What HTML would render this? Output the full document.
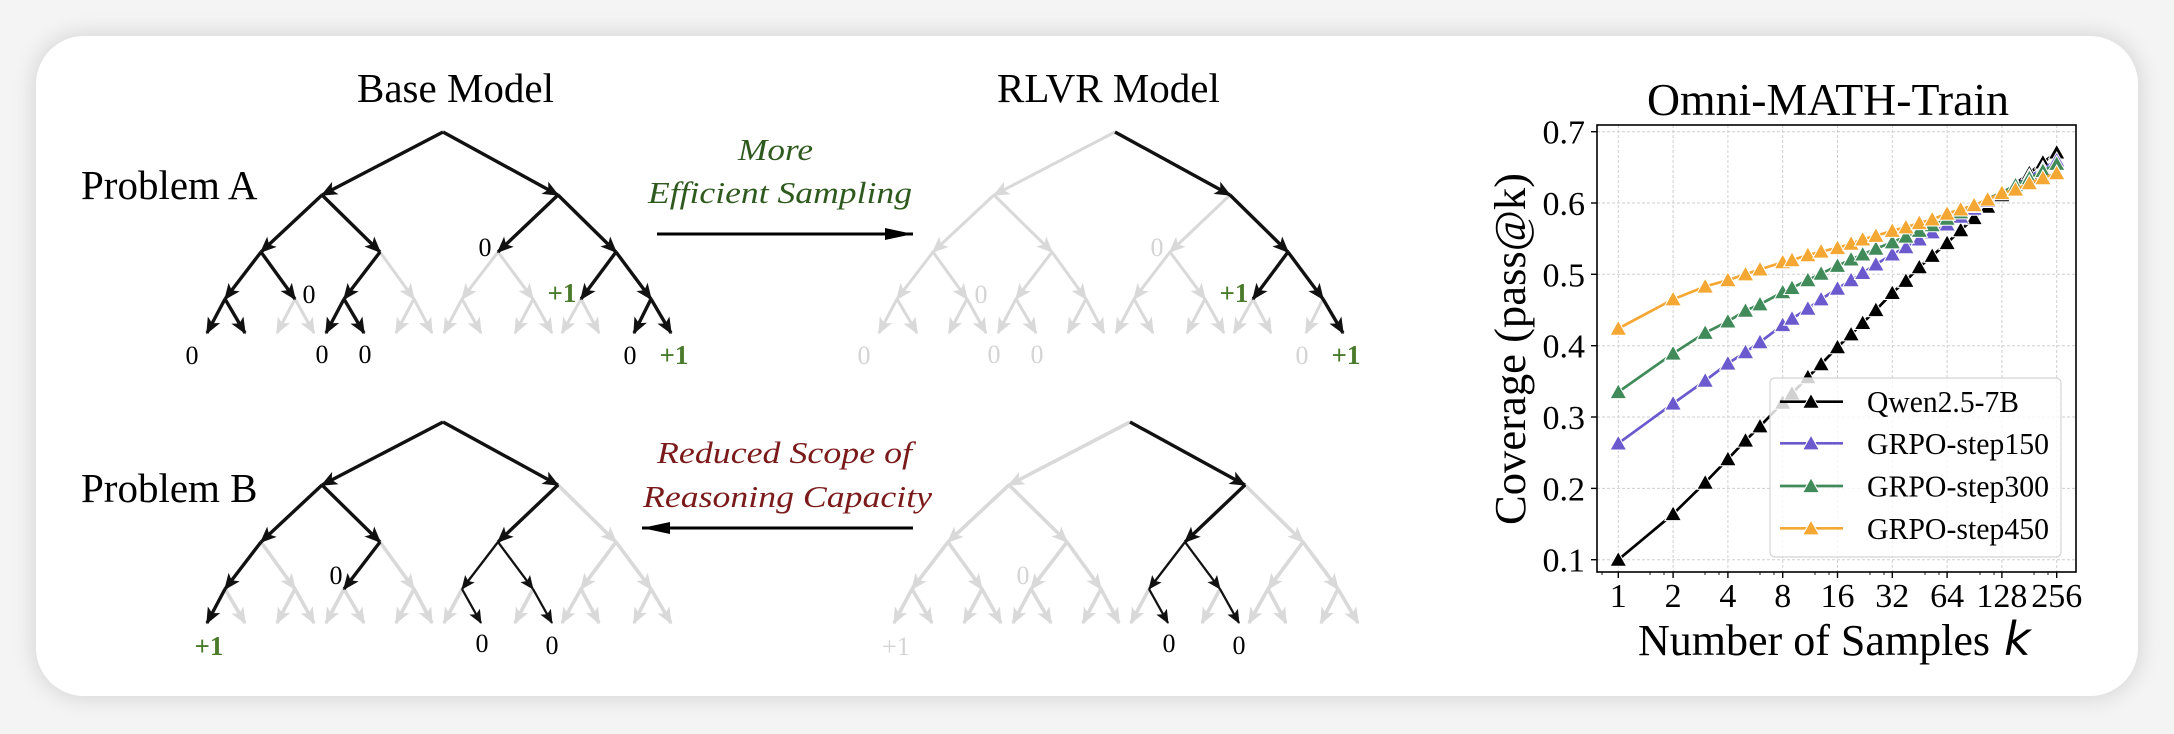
<!DOCTYPE html>
<html><head><meta charset="utf-8"><style>
html,body{margin:0;padding:0}
body{width:2174px;height:734px;background:#f4f4f4;overflow:hidden;position:relative}
.panel{position:absolute;left:36px;top:36px;width:2102px;height:660px;background:#fff;border-radius:48px;box-shadow:0 0 22px 3px rgba(0,0,0,0.12)}
svg{position:absolute;left:0;top:0}
.k{stroke:#111;stroke-width:3.4;fill:none;marker-end:url(#mk)}
.t{stroke:#111;stroke-width:2.3;fill:none;marker-end:url(#mt)}
.g{stroke:#d9d9d9;stroke-width:3;fill:none;marker-end:url(#mg)}
.gb{stroke:#d9d9d9;stroke-width:3.6;fill:none;marker-end:url(#mg)}
.lab{font-family:"Liberation Serif",serif;font-size:26px;text-anchor:middle}
.p1{font-size:27px;font-weight:600}
.grid{stroke:#cfcfcf;stroke-width:1;stroke-dasharray:3,2}
</style></head><body>
<div class="panel"></div>
<svg width="2174" height="734" viewBox="0 0 2174 734">
<defs>
<marker id="mk" markerUnits="userSpaceOnUse" viewBox="-18 -9 20 18" refX="0" refY="0" markerWidth="20" markerHeight="18" orient="auto"><path d="M1.5,0 L-15,-7 L-11,0 L-15,7 Z" fill="#111"/></marker>
<marker id="mt" markerUnits="userSpaceOnUse" viewBox="-18 -9 20 18" refX="0" refY="0" markerWidth="20" markerHeight="18" orient="auto"><path d="M1,0 L-13,-6 L-10,0 L-13,6 Z" fill="#111"/></marker>
<marker id="mg" markerUnits="userSpaceOnUse" viewBox="-18 -9 20 18" refX="0" refY="0" markerWidth="20" markerHeight="18" orient="auto"><path d="M1.5,0 L-15,-7 L-11,0 L-15,7 Z" fill="#d9d9d9"/></marker>
<marker id="ma" markerUnits="userSpaceOnUse" viewBox="-30 -8 32 16" refX="0" refY="0" markerWidth="32" markerHeight="16" orient="auto"><path d="M0,0 L-28,-6 L-28,6 Z" fill="#000"/></marker>
<path id="tri" d="M0,-8.2 L8.3,6.6 L-8.3,6.6 Z"/>
</defs>

<!-- Titles -->
<g font-family="'Liberation Serif',serif" font-size="41" fill="#000">
<text x="357" y="102">Base Model</text>
<text x="997" y="102">RLVR Model</text>
<text x="81" y="199">Problem A</text>
<text x="81" y="502">Problem B</text>
</g>

<!-- Middle annotations -->
<g font-family="'Liberation Serif',serif" font-style="italic" font-size="31">
<text x="738" y="160" fill="#2f5a1e" textLength="75" lengthAdjust="spacingAndGlyphs">More</text>
<text x="648" y="203" fill="#2f5a1e" textLength="264" lengthAdjust="spacingAndGlyphs">Efficient Sampling</text>
<text x="657" y="463" fill="#7a1a1a" textLength="255" lengthAdjust="spacingAndGlyphs">Reduced Scope of</text>
<text x="643" y="507" fill="#7a1a1a" textLength="289" lengthAdjust="spacingAndGlyphs">Reasoning Capacity</text>
</g>
<line x1="657" y1="234" x2="913" y2="234" stroke="#000" stroke-width="3" marker-end="url(#ma)"/>
<line x1="913" y1="528" x2="642" y2="528" stroke="#000" stroke-width="3" marker-end="url(#ma)"/>

<!-- Tree A base -->
<g>
<path class="g" d="M380,252L414,299"/><path class="g" d="M498,252L462,299"/><path class="g" d="M498,252L533,299"/>
<path class="g" d="M295,299L277,333"/><path class="g" d="M295,299L314,333"/>
<path class="g" d="M414,299L396,333"/><path class="g" d="M414,299L432,333"/>
<path class="g" d="M462,299L444,333"/><path class="g" d="M462,299L481,333"/>
<path class="g" d="M533,299L515,333"/><path class="g" d="M533,299L552,333"/>
<path class="g" d="M581,299L562,333"/><path class="g" d="M581,299L599,333"/>
<path class="k" d="M443,132L322,195"/><path class="k" d="M443,132L558,195"/>
<path class="k" d="M322,195L261,252"/><path class="k" d="M322,195L380,252"/>
<path class="k" d="M558,195L498,252"/><path class="k" d="M558,195L616,252"/>
<path class="k" d="M261,252L225,299"/><path class="k" d="M261,252L295,299"/>
<path class="k" d="M380,252L344,299"/>
<path class="k" d="M616,252L581,299"/><path class="k" d="M616,252L651,299"/>
<path class="k" d="M225,299L207,333"/><path class="k" d="M225,299L245,333"/>
<path class="k" d="M344,299L326,333"/><path class="k" d="M344,299L364,333"/>
<path class="k" d="M651,299L634,333"/><path class="k" d="M651,299L671,333"/>
</g>
<g class="lab">
<text x="485" y="256" fill="#000">0</text>
<text x="309" y="303" fill="#000">0</text>
<text class="p1" x="562" y="302" fill="#4a7a2c">+1</text>
<text x="192" y="364" fill="#000">0</text>
<text x="322" y="363" fill="#000">0</text>
<text x="365" y="363" fill="#000">0</text>
<text x="630" y="364" fill="#000">0</text>
<text class="p1" x="674" y="364" fill="#4a7a2c">+1</text>
</g>

<!-- Tree A RLVR -->
<g transform="translate(672,0)">
<path class="g" d="M443,132L322,195"/>
<path class="g" d="M322,195L261,252"/><path class="g" d="M322,195L380,252"/>
<path class="g" d="M558,195L498,252"/>
<path class="g" d="M261,252L225,299"/><path class="g" d="M261,252L295,299"/>
<path class="g" d="M380,252L344,299"/><path class="g" d="M380,252L414,299"/>
<path class="g" d="M498,252L462,299"/><path class="g" d="M498,252L533,299"/>
<path class="g" d="M225,299L207,333"/><path class="g" d="M225,299L245,333"/>
<path class="g" d="M295,299L277,333"/><path class="g" d="M295,299L314,333"/>
<path class="g" d="M344,299L326,333"/><path class="g" d="M344,299L364,333"/>
<path class="g" d="M414,299L396,333"/><path class="g" d="M414,299L432,333"/>
<path class="g" d="M462,299L444,333"/><path class="g" d="M462,299L481,333"/>
<path class="g" d="M533,299L515,333"/><path class="g" d="M533,299L552,333"/>
<path class="g" d="M581,299L562,333"/><path class="g" d="M581,299L599,333"/>
<path class="g" d="M651,299L634,333"/>
<path class="k" d="M443,132L558,195"/>
<path class="k" d="M558,195L616,252"/>
<path class="k" d="M616,252L581,299"/><path class="k" d="M616,252L651,299"/>
<path class="k" d="M651,299L671,333"/>
</g>
<g class="lab">
<text x="1157" y="256" fill="#d4d4d4">0</text>
<text x="981" y="303" fill="#d4d4d4">0</text>
<text class="p1" x="1234" y="302" fill="#4a7a2c">+1</text>
<text x="864" y="364" fill="#d4d4d4">0</text>
<text x="994" y="363" fill="#d4d4d4">0</text>
<text x="1037" y="363" fill="#d4d4d4">0</text>
<text x="1302" y="364" fill="#d4d4d4">0</text>
<text class="p1" x="1346" y="364" fill="#4a7a2c">+1</text>
</g>

<!-- Tree B base -->
<g transform="translate(0,290)">
<path class="gb" d="M558,195L616,252"/>
<path class="gb" d="M261,252L295,299"/>
<path class="gb" d="M380,252L414,299"/>
<path class="gb" d="M616,252L581,299"/><path class="gb" d="M616,252L651,299"/>
<path class="gb" d="M225,299L245,333"/>
<path class="gb" d="M295,299L277,333"/><path class="gb" d="M295,299L314,333"/>
<path class="gb" d="M344,299L326,333"/><path class="gb" d="M344,299L364,333"/>
<path class="gb" d="M414,299L396,333"/><path class="gb" d="M414,299L432,333"/>
<path class="gb" d="M462,299L444,333"/>
<path class="gb" d="M533,299L515,333"/>
<path class="gb" d="M581,299L562,333"/><path class="gb" d="M581,299L599,333"/>
<path class="gb" d="M651,299L634,333"/><path class="gb" d="M651,299L671,333"/>
<path class="k" d="M443,132L322,195"/><path class="k" d="M443,132L558,195"/>
<path class="k" d="M322,195L261,252"/><path class="k" d="M322,195L380,252"/>
<path class="k" d="M558,195L498,252"/>
<path class="k" d="M261,252L225,299"/>
<path class="k" d="M380,252L344,299"/>
<path class="k" d="M225,299L207,333"/>
<path class="t" d="M498,252L462,299"/><path class="t" d="M498,252L533,299"/>
<path class="t" d="M462,299L481,333"/><path class="t" d="M533,299L552,333"/>
</g>
<g class="lab">
<text x="336" y="584" fill="#000">0</text>
<text class="p1" x="209" y="655" fill="#4a7a2c">+1</text>
<text x="482" y="652" fill="#000">0</text>
<text x="552" y="654" fill="#000">0</text>
</g>

<!-- Tree B RLVR -->
<g transform="translate(687,290)">
<path class="gb" d="M443,132L322,195"/>
<path class="gb" d="M322,195L261,252"/><path class="gb" d="M322,195L380,252"/>
<path class="gb" d="M558,195L616,252"/>
<path class="gb" d="M261,252L225,299"/><path class="gb" d="M261,252L295,299"/>
<path class="gb" d="M380,252L344,299"/><path class="gb" d="M380,252L414,299"/>
<path class="gb" d="M616,252L581,299"/><path class="gb" d="M616,252L651,299"/>
<path class="gb" d="M225,299L207,333"/><path class="gb" d="M225,299L245,333"/>
<path class="gb" d="M295,299L277,333"/><path class="gb" d="M295,299L314,333"/>
<path class="gb" d="M344,299L326,333"/><path class="gb" d="M344,299L364,333"/>
<path class="gb" d="M414,299L396,333"/><path class="gb" d="M414,299L432,333"/>
<path class="gb" d="M462,299L444,333"/>
<path class="gb" d="M533,299L515,333"/>
<path class="gb" d="M581,299L562,333"/><path class="gb" d="M581,299L599,333"/>
<path class="gb" d="M651,299L634,333"/><path class="gb" d="M651,299L671,333"/>
<path class="k" d="M443,132L558,195"/>
<path class="k" d="M558,195L498,252"/>
<path class="t" d="M498,252L462,299"/><path class="t" d="M498,252L533,299"/>
<path class="t" d="M462,299L481,333"/><path class="t" d="M533,299L552,333"/>
</g>
<g class="lab">
<text x="896" y="655" fill="#d4d4d4">+1</text>
<text x="1023" y="584" fill="#d4d4d4">0</text>
<text x="1169" y="652" fill="#000">0</text>
<text x="1239" y="654" fill="#000">0</text>
</g>

<!-- ===== Chart ===== -->
<g font-family="'Liberation Serif',serif" fill="#000">
<text x="1647" y="115" font-size="45" textLength="362" lengthAdjust="spacingAndGlyphs">Omni-MATH-Train</text>
<text transform="translate(1525,349) rotate(-90)" text-anchor="middle" font-size="44" textLength="352" lengthAdjust="spacingAndGlyphs">Coverage (pass@k)</text>
<text x="1638" y="655" font-size="44" textLength="352" lengthAdjust="spacingAndGlyphs">Number of Samples</text>
<text x="2004" y="655" font-size="46" font-family="'DejaVu Sans',sans-serif" font-style="italic">k</text>
</g>

<!-- grid -->
<g class="grid">
<line x1="1618.3" y1="125" x2="1618.3" y2="572"/><line x1="1673.1" y1="125" x2="1673.1" y2="572"/>
<line x1="1727.9" y1="125" x2="1727.9" y2="572"/><line x1="1782.7" y1="125" x2="1782.7" y2="572"/>
<line x1="1837.5" y1="125" x2="1837.5" y2="572"/><line x1="1892.3" y1="125" x2="1892.3" y2="572"/>
<line x1="1947.1" y1="125" x2="1947.1" y2="572"/><line x1="2001.9" y1="125" x2="2001.9" y2="572"/>
<line x1="2056.7" y1="125" x2="2056.7" y2="572"/>
<line x1="1597" y1="559.7" x2="2076" y2="559.7"/><line x1="1597" y1="488.4" x2="2076" y2="488.4"/>
<line x1="1597" y1="417.0" x2="2076" y2="417.0"/><line x1="1597" y1="345.7" x2="2076" y2="345.7"/>
<line x1="1597" y1="274.3" x2="2076" y2="274.3"/><line x1="1597" y1="203.0" x2="2076" y2="203.0"/>
<line x1="1597" y1="131.7" x2="2076" y2="131.7"/>
</g>

<!-- series: black -->
<polyline fill="none" stroke="#000" stroke-width="2.7" points="1618.3,559.7 1673.1,514.0 1705.2,482.6 1727.9,459.1 1745.5,440.5 1760.0,426.3 1782.7,402.7 1792.0,393.5 1807.9,377.1 1821.1,364.2 1837.5,347.1 1851.1,334.3 1862.7,322.9 1875.9,310.0 1892.3,292.9 1905.9,280.8 1919.3,267.2 1932.2,255.8 1947.1,243.0 1960.7,230.1 1974.1,218.0 1987.7,206.6 2001.9,195.2 2015.5,183.8 2029.3,173.1 2042.9,162.4 2056.7,152.4"/>
<g fill="#000" stroke="#fff" stroke-width="1">
<use href="#tri" x="1618.3" y="559.7"/><use href="#tri" x="1673.1" y="514.0"/><use href="#tri" x="1705.2" y="482.6"/><use href="#tri" x="1727.9" y="459.1"/><use href="#tri" x="1745.5" y="440.5"/><use href="#tri" x="1760.0" y="426.3"/><use href="#tri" x="1782.7" y="402.7"/><use href="#tri" x="1792.0" y="393.5"/><use href="#tri" x="1807.9" y="377.1"/><use href="#tri" x="1821.1" y="364.2"/><use href="#tri" x="1837.5" y="347.1"/><use href="#tri" x="1851.1" y="334.3"/><use href="#tri" x="1862.7" y="322.9"/><use href="#tri" x="1875.9" y="310.0"/><use href="#tri" x="1892.3" y="292.9"/><use href="#tri" x="1905.9" y="280.8"/><use href="#tri" x="1919.3" y="267.2"/><use href="#tri" x="1932.2" y="255.8"/><use href="#tri" x="1947.1" y="243.0"/><use href="#tri" x="1960.7" y="230.1"/><use href="#tri" x="1974.1" y="218.0"/><use href="#tri" x="1987.7" y="206.6"/><use href="#tri" x="2001.9" y="195.2"/><use href="#tri" x="2015.5" y="183.8"/><use href="#tri" x="2029.3" y="173.1"/><use href="#tri" x="2042.9" y="162.4"/><use href="#tri" x="2056.7" y="152.4"/>
</g>

<!-- purple -->
<polyline fill="none" stroke="#6a5acd" stroke-width="2.7" points="1618.3,443.4 1673.1,403.5 1705.2,380.6 1727.9,363.5 1745.5,352.1 1760.0,342.1 1782.7,325.0 1792.0,318.6 1807.9,308.6 1821.1,299.3 1837.5,288.6 1851.1,280.1 1862.7,272.9 1875.9,264.4 1892.3,254.4 1905.9,247.2 1919.3,239.4 1932.2,232.3 1947.1,224.4 1960.7,216.6 1974.1,208.7 1987.7,200.9 2001.9,193.0 2015.5,185.2 2029.3,176.6 2042.9,168.8 2056.7,160.2"/>
<g fill="#6a5acd" stroke="#fff" stroke-width="1">
<use href="#tri" x="1618.3" y="443.4"/><use href="#tri" x="1673.1" y="403.5"/><use href="#tri" x="1705.2" y="380.6"/><use href="#tri" x="1727.9" y="363.5"/><use href="#tri" x="1745.5" y="352.1"/><use href="#tri" x="1760.0" y="342.1"/><use href="#tri" x="1782.7" y="325.0"/><use href="#tri" x="1792.0" y="318.6"/><use href="#tri" x="1807.9" y="308.6"/><use href="#tri" x="1821.1" y="299.3"/><use href="#tri" x="1837.5" y="288.6"/><use href="#tri" x="1851.1" y="280.1"/><use href="#tri" x="1862.7" y="272.9"/><use href="#tri" x="1875.9" y="264.4"/><use href="#tri" x="1892.3" y="254.4"/><use href="#tri" x="1905.9" y="247.2"/><use href="#tri" x="1919.3" y="239.4"/><use href="#tri" x="1932.2" y="232.3"/><use href="#tri" x="1947.1" y="224.4"/><use href="#tri" x="1960.7" y="216.6"/><use href="#tri" x="1974.1" y="208.7"/><use href="#tri" x="1987.7" y="200.9"/><use href="#tri" x="2001.9" y="193.0"/><use href="#tri" x="2015.5" y="185.2"/><use href="#tri" x="2029.3" y="176.6"/><use href="#tri" x="2042.9" y="168.8"/><use href="#tri" x="2056.7" y="160.2"/>
</g>

<!-- green -->
<polyline fill="none" stroke="#418b5b" stroke-width="2.7" points="1618.3,392.0 1673.1,353.5 1705.2,332.8 1727.9,321.4 1745.5,310.7 1760.0,304.3 1782.7,292.2 1792.0,287.9 1807.9,280.1 1821.1,273.6 1837.5,265.8 1851.1,259.4 1862.7,254.4 1875.9,248.7 1892.3,242.3 1905.9,236.5 1919.3,230.8 1932.2,225.1 1947.1,218.7 1960.7,212.3 1974.1,205.9 1987.7,198.7 2001.9,192.3 2015.5,185.2 2029.3,178.1 2042.9,170.9 2056.7,163.8"/>
<g fill="#418b5b" stroke="#fff" stroke-width="1">
<use href="#tri" x="1618.3" y="392.0"/><use href="#tri" x="1673.1" y="353.5"/><use href="#tri" x="1705.2" y="332.8"/><use href="#tri" x="1727.9" y="321.4"/><use href="#tri" x="1745.5" y="310.7"/><use href="#tri" x="1760.0" y="304.3"/><use href="#tri" x="1782.7" y="292.2"/><use href="#tri" x="1792.0" y="287.9"/><use href="#tri" x="1807.9" y="280.1"/><use href="#tri" x="1821.1" y="273.6"/><use href="#tri" x="1837.5" y="265.8"/><use href="#tri" x="1851.1" y="259.4"/><use href="#tri" x="1862.7" y="254.4"/><use href="#tri" x="1875.9" y="248.7"/><use href="#tri" x="1892.3" y="242.3"/><use href="#tri" x="1905.9" y="236.5"/><use href="#tri" x="1919.3" y="230.8"/><use href="#tri" x="1932.2" y="225.1"/><use href="#tri" x="1947.1" y="218.7"/><use href="#tri" x="1960.7" y="212.3"/><use href="#tri" x="1974.1" y="205.9"/><use href="#tri" x="1987.7" y="198.7"/><use href="#tri" x="2001.9" y="192.3"/><use href="#tri" x="2015.5" y="185.2"/><use href="#tri" x="2029.3" y="178.1"/><use href="#tri" x="2042.9" y="170.9"/><use href="#tri" x="2056.7" y="163.8"/>
</g>

<!-- orange -->
<polyline fill="none" stroke="#f5a733" stroke-width="2.7" points="1618.3,328.6 1673.1,299.3 1705.2,286.5 1727.9,280.1 1745.5,274.3 1760.0,269.4 1782.7,262.2 1792.0,260.1 1807.9,255.1 1821.1,251.5 1837.5,248.0 1851.1,243.7 1862.7,239.4 1875.9,235.8 1892.3,230.8 1905.9,227.3 1919.3,223.0 1932.2,219.4 1947.1,213.7 1960.7,209.4 1974.1,205.2 1987.7,199.5 2001.9,193.0 2015.5,189.5 2029.3,183.1 2042.9,178.1 2056.7,173.1"/>
<g fill="#f5a733" stroke="#fff" stroke-width="1">
<use href="#tri" x="1618.3" y="328.6"/><use href="#tri" x="1673.1" y="299.3"/><use href="#tri" x="1705.2" y="286.5"/><use href="#tri" x="1727.9" y="280.1"/><use href="#tri" x="1745.5" y="274.3"/><use href="#tri" x="1760.0" y="269.4"/><use href="#tri" x="1782.7" y="262.2"/><use href="#tri" x="1792.0" y="260.1"/><use href="#tri" x="1807.9" y="255.1"/><use href="#tri" x="1821.1" y="251.5"/><use href="#tri" x="1837.5" y="248.0"/><use href="#tri" x="1851.1" y="243.7"/><use href="#tri" x="1862.7" y="239.4"/><use href="#tri" x="1875.9" y="235.8"/><use href="#tri" x="1892.3" y="230.8"/><use href="#tri" x="1905.9" y="227.3"/><use href="#tri" x="1919.3" y="223.0"/><use href="#tri" x="1932.2" y="219.4"/><use href="#tri" x="1947.1" y="213.7"/><use href="#tri" x="1960.7" y="209.4"/><use href="#tri" x="1974.1" y="205.2"/><use href="#tri" x="1987.7" y="199.5"/><use href="#tri" x="2001.9" y="193.0"/><use href="#tri" x="2015.5" y="189.5"/><use href="#tri" x="2029.3" y="183.1"/><use href="#tri" x="2042.9" y="178.1"/><use href="#tri" x="2056.7" y="173.1"/>
</g>

<!-- axes frame & ticks -->
<rect x="1597" y="125" width="479" height="447" fill="none" stroke="#000" stroke-width="1.6"/>
<g stroke="#000" stroke-width="1.4">
<line x1="1591" y1="559.7" x2="1597" y2="559.7"/><line x1="1591" y1="488.4" x2="1597" y2="488.4"/>
<line x1="1591" y1="417.0" x2="1597" y2="417.0"/><line x1="1591" y1="345.7" x2="1597" y2="345.7"/>
<line x1="1591" y1="274.3" x2="1597" y2="274.3"/><line x1="1591" y1="203.0" x2="1597" y2="203.0"/>
<line x1="1591" y1="131.7" x2="1597" y2="131.7"/>
<line x1="1618.3" y1="572" x2="1618.3" y2="578"/><line x1="1673.1" y1="572" x2="1673.1" y2="578"/>
<line x1="1727.9" y1="572" x2="1727.9" y2="578"/><line x1="1782.7" y1="572" x2="1782.7" y2="578"/>
<line x1="1837.5" y1="572" x2="1837.5" y2="578"/><line x1="1892.3" y1="572" x2="1892.3" y2="578"/>
<line x1="1947.1" y1="572" x2="1947.1" y2="578"/><line x1="2001.9" y1="572" x2="2001.9" y2="578"/>
<line x1="2056.7" y1="572" x2="2056.7" y2="578"/>
</g>
<g stroke="#000" stroke-width="0.9">
<line x1="1602" y1="572" x2="1602" y2="575"/><line x1="1650" y1="572" x2="1650" y2="575"/><line x1="1664" y1="572" x2="1664" y2="575"/>
<line x1="1705" y1="572" x2="1705" y2="575"/><line x1="1719" y1="572" x2="1719" y2="575"/>
<line x1="1760" y1="572" x2="1760" y2="575"/><line x1="1774" y1="572" x2="1774" y2="575"/>
<line x1="1815" y1="572" x2="1815" y2="575"/><line x1="1829" y1="572" x2="1829" y2="575"/>
<line x1="1870" y1="572" x2="1870" y2="575"/><line x1="1884" y1="572" x2="1884" y2="575"/>
<line x1="1925" y1="572" x2="1925" y2="575"/><line x1="1939" y1="572" x2="1939" y2="575"/>
<line x1="1980" y1="572" x2="1980" y2="575"/><line x1="1994" y1="572" x2="1994" y2="575"/>
<line x1="2034" y1="572" x2="2034" y2="575"/><line x1="2048" y1="572" x2="2048" y2="575"/>
</g>
<g font-family="'Liberation Serif',serif" font-size="34" fill="#000" text-anchor="end">
<text x="1585" y="571.7">0.1</text><text x="1585" y="500.4">0.2</text><text x="1585" y="429.0">0.3</text>
<text x="1585" y="357.7">0.4</text><text x="1585" y="286.3">0.5</text><text x="1585" y="215.0">0.6</text>
<text x="1585" y="143.7">0.7</text>
</g>
<g font-family="'Liberation Serif',serif" font-size="34" fill="#000" text-anchor="middle">
<text x="1618.3" y="607">1</text><text x="1673.1" y="607">2</text><text x="1727.9" y="607">4</text>
<text x="1782.7" y="607">8</text><text x="1837.5" y="607">16</text><text x="1892.3" y="607">32</text>
<text x="1947.1" y="607">64</text><text x="2001.9" y="607">128</text><text x="2056.7" y="607">256</text>
</g>

<!-- legend -->
<rect x="1770" y="378" width="291" height="179" rx="5" fill="#fff" fill-opacity="0.82" stroke="#d4d4d4" stroke-width="1.2"/>
<g stroke-width="2.7">
<line x1="1780" y1="401.7" x2="1843" y2="401.7" stroke="#000"/>
<line x1="1780" y1="443.3" x2="1843" y2="443.3" stroke="#6a5acd"/>
<line x1="1780" y1="486" x2="1843" y2="486" stroke="#418b5b"/>
<line x1="1780" y1="528.3" x2="1843" y2="528.3" stroke="#f5a733"/>
</g>
<g stroke="#fff" stroke-width="1">
<use href="#tri" x="1811" y="401.7" fill="#000"/>
<use href="#tri" x="1811" y="443.3" fill="#6a5acd"/>
<use href="#tri" x="1811" y="486" fill="#418b5b"/>
<use href="#tri" x="1811" y="528.3" fill="#f5a733"/>
</g>
<g font-family="'Liberation Serif',serif" font-size="31" fill="#000">
<text x="1867" y="412" textLength="152" lengthAdjust="spacingAndGlyphs">Qwen2.5-7B</text>
<text x="1867" y="454" textLength="182" lengthAdjust="spacingAndGlyphs">GRPO-step150</text>
<text x="1867" y="496.5" textLength="182" lengthAdjust="spacingAndGlyphs">GRPO-step300</text>
<text x="1867" y="539" textLength="182" lengthAdjust="spacingAndGlyphs">GRPO-step450</text>
</g>
</svg>
</body></html>
